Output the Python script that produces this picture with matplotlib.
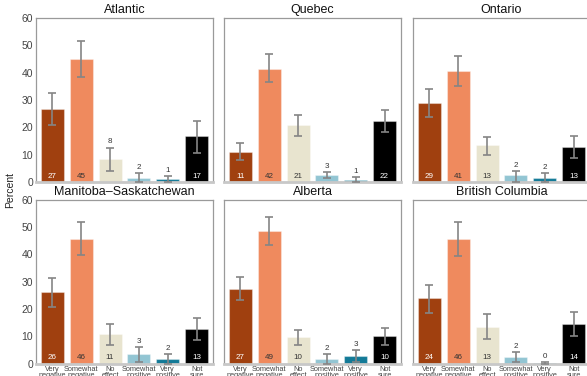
import matplotlib
matplotlib.use("Agg")
import matplotlib.pyplot as plt
import numpy as np

plt.rcParams["font.family"] = ["Liberation Sans", "DejaVu Sans"]

regions = ["Atlantic", "Quebec", "Ontario", "Manitoba\u2013Saskatchewan", "Alberta", "British Columbia"]
categories = ["Very\nnegative", "Somewhat\nnegative", "No\neffect", "Somewhat\npositive", "Very\npositive", "Not\nsure"]

values = {
    "Atlantic": [26.8, 44.9, 8.4, 1.6, 1.0, 16.7],
    "Quebec": [11.1, 41.5, 20.7, 2.6, 0.7, 22.3],
    "Ontario": [28.8, 40.6, 13.4, 2.4, 1.6, 12.7],
    "Manitoba\u2013Saskatchewan": [26.0, 45.6, 10.7, 3.4, 1.7, 12.7],
    "Alberta": [27.4, 48.5, 9.6, 1.8, 2.9, 10.0],
    "British Columbia": [23.8, 45.7, 13.4, 2.4, 0.3, 14.4],
}
labels = {
    "Atlantic": [27, 45, 8, 2, 1, 17],
    "Quebec": [11, 42, 21, 3, 1, 22],
    "Ontario": [29, 41, 13, 2, 2, 13],
    "Manitoba\u2013Saskatchewan": [26, 46, 11, 3, 2, 13],
    "Alberta": [27, 49, 10, 2, 3, 10],
    "British Columbia": [24, 46, 13, 2, 0, 14],
}
lower = {
    "Atlantic": [20.9, 38.3, 4.1, 0.0, 0.0, 10.7],
    "Quebec": [8.0, 36.5, 16.8, 1.4, 0.0, 18.2],
    "Ontario": [23.8, 35.0, 9.9, 0.0, 0.0, 8.7],
    "Manitoba\u2013Saskatchewan": [20.7, 39.6, 6.7, 0.6, 0.0, 8.5],
    "Alberta": [23.2, 43.3, 6.7, 0.0, 0.4, 6.7],
    "British Columbia": [18.5, 39.5, 8.9, 0.5, 0.0, 10.0],
}
upper = {
    "Atlantic": [32.7, 51.5, 12.6, 3.4, 2.3, 22.4],
    "Quebec": [14.3, 46.7, 24.6, 3.7, 1.7, 26.5],
    "Ontario": [34.0, 46.0, 16.6, 4.1, 3.4, 16.7],
    "Manitoba\u2013Saskatchewan": [31.1, 51.6, 14.6, 5.9, 3.5, 16.6],
    "Alberta": [31.6, 53.7, 12.3, 3.4, 4.8, 13.0],
    "British Columbia": [28.9, 51.8, 18.0, 4.3, 0.6, 19.0],
}
colors = ["#A0400F", "#EF8A5E", "#E8E4CF", "#92C5D3", "#137A97", "#000000"]
inside_text_colors = ["white", "#333333", "#333333", "#333333", "white", "white"]

fig = plt.figure(figsize=(5.87, 3.76), dpi=100)
W, H = 587, 376
lefts = [36, 224, 413]
pw = 177
bottoms_px = [182, 363.5]
ph = 164

x = np.arange(len(categories))
for i, reg in enumerate(regions):
    r, c = divmod(i, 3)
    l = lefts[c] / W
    b = 1 - bottoms_px[r] / H
    ax = fig.add_axes([l, b, pw / W, ph / H])
    v = values[reg]
    ax.bar(x, v, width=0.8, color=colors, edgecolor=(1, 1, 1, 0.35), linewidth=0.8, zorder=2)
    lo = np.array(v) - np.array(lower[reg])
    hi = np.array(upper[reg]) - np.array(v)
    ax.errorbar(x, v, yerr=[lo, hi], fmt="none", ecolor="#858585", elinewidth=1.2,
                capsize=3, capthick=1.2, zorder=3)
    for j, (val, lab) in enumerate(zip(v, labels[reg])):
        if lab >= 10:
            ax.text(j, 2.1, str(lab), ha="center", va="center", fontsize=5.8,
                    color=inside_text_colors[j], zorder=4)
        else:
            ax.text(j, upper[reg][j] + 0.8, str(lab), ha="center", va="bottom",
                    fontsize=5.8, color="#333333", zorder=4)
    ax.set_xlim(-0.57, 5.57)
    ax.set_ylim(0, 60)
    ax.set_title(reg, fontsize=9, pad=3.5, color="#111111")
    for s in ["top", "right", "left"]:
        ax.spines[s].set_color("#9a9a9a")
        ax.spines[s].set_linewidth(0.9)
    ax.spines["bottom"].set_color("#c8c8c8")
    ax.spines["bottom"].set_linewidth(2)
    ax.tick_params(axis="both", length=0, pad=2)
    ax.set_yticks([0, 10, 20, 30, 40, 50, 60])
    if c == 0:
        ax.tick_params(axis="y", labelsize=7.5, labelcolor="#444444")
    else:
        ax.set_yticklabels([])
    ax.set_xticks(x)
    if r == 1:
        ax.set_xticklabels(categories, fontsize=5.3, color="#444444", linespacing=0.85)
        ax.tick_params(axis="x", pad=1.5)
    else:
        ax.set_xticklabels([])

fig.text(10 / W, 1 - 190 / H, "Percent", rotation=90, ha="center", va="center",
         fontsize=7.5, color="#222222")

fig.savefig("out.png", dpi=100)
